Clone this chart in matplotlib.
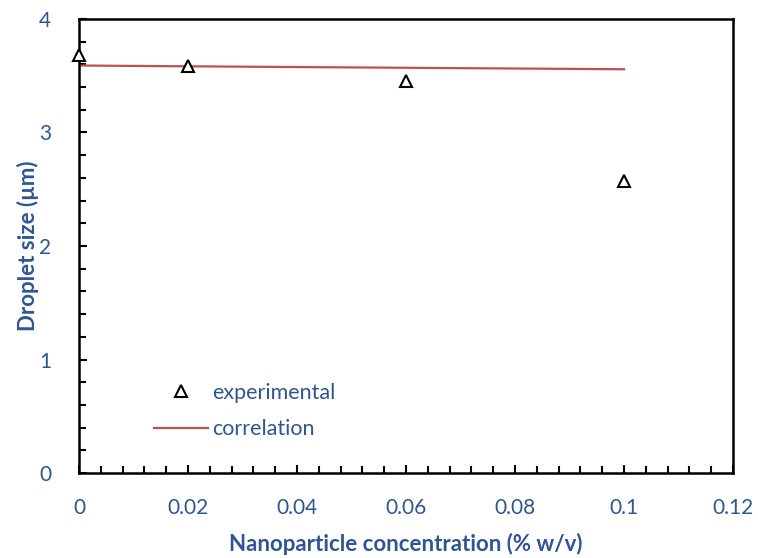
import matplotlib.pyplot as plt
from matplotlib.ticker import MultipleLocator, FuncFormatter

# experimental droplet sizes
conc_exp = [0.0, 0.02, 0.06, 0.1]
size_exp = [3.68, 3.585, 3.45, 2.575]

# correlation curve
conc_cor = [0.0, 0.02, 0.06, 0.1]
size_cor = [3.59, 3.583, 3.57, 3.557]

blue = '#2F5597'
plt.rcParams['font.family'] = ['Lato', 'DejaVu Sans']

fig = plt.figure(figsize=(7.58, 5.58), dpi=100)
ax = fig.add_axes([0.1042, 0.1523, 0.8628, 0.8137])

ax.plot(conc_cor, size_cor, color='#C0504D', lw=1.6, label='correlation')
ax.plot(conc_exp, size_exp, ls='none', marker='^', ms=8, mfc='white',
        mec='black', mew=1.5, label='experimental', clip_on=False, zorder=5)

ax.set_xlim(0, 0.12)
ax.set_ylim(0, 4)
ax.xaxis.set_major_locator(MultipleLocator(0.02))
ax.xaxis.set_minor_locator(MultipleLocator(0.004))
ax.yaxis.set_major_locator(MultipleLocator(1))
ax.yaxis.set_minor_locator(MultipleLocator(0.2))
ax.xaxis.set_major_formatter(FuncFormatter(lambda v, p: '%g' % round(v, 3)))

ax.tick_params(which='both', direction='in', color='black', width=1.5,
               top=False, right=False, labelsize=15, labelcolor=blue)
ax.tick_params(which='major', length=6)
ax.tick_params(axis='x', which='major', pad=18)
ax.tick_params(axis='y', which='major', pad=20)
ax.tick_params(which='minor', length=5)
for s in ax.spines.values():
    s.set_linewidth(1.8)

ax.set_xlabel('Nanoparticle concentration (% w/v)', fontsize=16,
              fontweight='bold', color=blue, labelpad=11)
ax.set_ylabel('Droplet size (µm)', fontsize=16, fontweight='bold',
              color=blue, labelpad=0)

h, l = ax.get_legend_handles_labels()
leg = ax.legend(h[::-1], l[::-1], loc='lower left',
                bbox_to_anchor=(0.085, 0.032), frameon=False, fontsize=15.5,
                handlelength=2.5, handletextpad=0.2, labelspacing=0.75,
                numpoints=1)
for t in leg.get_texts():
    t.set_color(blue)

fig.savefig('out.png', dpi=100)
